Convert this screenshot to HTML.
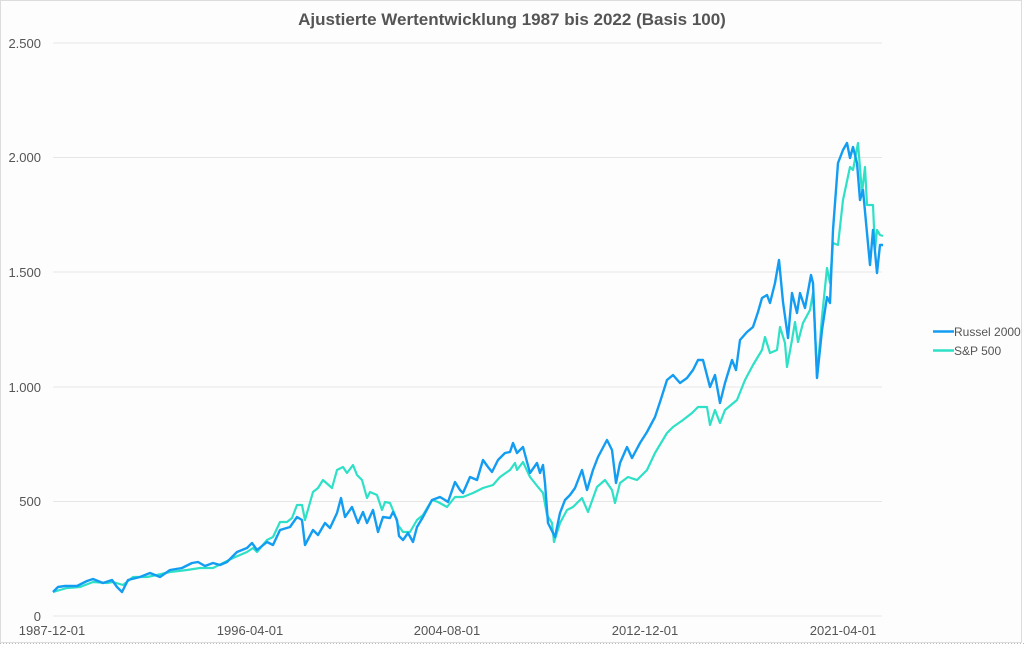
<!DOCTYPE html>
<html><head><meta charset="utf-8"><style>
html,body{margin:0;padding:0;background:#fff;}
svg{display:block;font-family:"Liberation Sans",sans-serif;}
</style></head><body>
<svg width="1024" height="645" viewBox="0 0 1024 645" xmlns="http://www.w3.org/2000/svg">
<rect x="0.5" y="0.5" width="1021" height="642" fill="#fdfdfd" stroke="#dcdcdc"/>
<line x1="0" y1="643.5" x2="1024" y2="643.5" stroke="#bbb" stroke-dasharray="1,2"/>
<text x="512" y="25" text-anchor="middle" font-size="17" font-weight="bold" fill="#555">Ajustierte Wertentwicklung 1987 bis 2022 (Basis 100)</text>
<g stroke="#e6e6e6" stroke-width="1">
<line x1="53" y1="43" x2="882" y2="43"/><line x1="53" y1="157.5" x2="882" y2="157.5"/>
<line x1="53" y1="272" x2="882" y2="272"/><line x1="53" y1="387" x2="882" y2="387"/>
<line x1="53" y1="501.5" x2="882" y2="501.5"/><line x1="53" y1="616" x2="882" y2="616"/>
</g>
<g font-size="13" fill="#555" text-anchor="end">
<text x="41" y="48">2.500</text><text x="41" y="162">2.000</text><text x="41" y="277">1.500</text>
<text x="41" y="392">1.000</text><text x="41" y="506">500</text><text x="41" y="621">0</text>
</g>
<g font-size="13" fill="#555" text-anchor="middle">
<text x="52" y="635">1987-12-01</text><text x="250" y="635">1996-04-01</text><text x="447" y="635">2004-08-01</text>
<text x="645" y="635">2012-12-01</text><text x="843" y="635">2021-04-01</text>
</g>
<polyline fill="none" stroke="#2ee0c6" stroke-width="2.2" stroke-linejoin="round" points="53,592 67,588 80,587 93,582 107,583 113,582 123,585 133,577 147,577 157,575 170,572 187,570 200,568 213,568 223,563 233,558 247,552 253,548 257,552 267,540 273,537 280,522 287,522 292,518 297,505 302,505 305,520 313,492 318,488 323,480 332,488 337,470 343,467 347,473 353,465 357,475 362,480 367,498 370,492 377,495 382,510 385,502 390,503 395,515 398,525 403,532 410,532 417,520 423,515 432,500 438,502 447,507 455,497 463,497 473,493 483,488 493,485 500,477 510,470 515,463 517,470 523,462 530,477 538,487 543,493 547,515 552,523 554,542 560,523 567,510 573,507 582,498 588,512 597,487 605,480 612,490 615,503 620,483 628,477 637,480 647,470 655,453 667,433 673,427 683,420 692,413 698,407 707,407 710,425 715,410 720,423 725,410 737,400 745,380 753,365 762,350 765,337 770,353 777,350 780,327 785,343 787,367 792,340 795,322 798,342 803,323 810,310 813,293 815,330 817,377 822,317 827,268 830,283 833,243 838,245 843,200 850,167 853,170 858,143 862,193 865,167 867,205 873,205 875,250 877,230 880,235 883,236"/>
<polyline fill="none" stroke="#139df2" stroke-width="2.4" stroke-linejoin="round" points="53,592 58,587 65,586 77,586 87,581 93,579 103,583 112,580 117,587 122,592 128,580 140,577 150,573 160,577 170,570 182,568 192,563 198,562 205,566 213,563 220,565 227,562 237,552 247,548 252,543 257,550 267,542 273,545 280,530 290,527 297,517 302,520 305,545 313,530 318,535 325,523 330,528 337,513 341,498 345,517 352,507 358,523 363,512 367,523 373,510 378,532 383,517 390,518 393,512 397,520 399,536 403,540 408,533 413,542 417,527 423,517 432,500 440,497 445,500 448,502 455,482 460,490 463,493 470,477 477,480 483,460 488,467 492,472 498,460 505,453 510,452 513,443 517,453 523,447 530,473 537,463 540,473 543,465 545,483 548,523 555,537 560,513 565,500 570,495 575,488 582,470 587,490 593,470 598,457 607,440 612,450 616,483 620,463 627,447 632,458 640,443 647,432 655,417 660,402 667,380 673,375 680,383 687,378 693,370 698,360 703,360 710,387 715,375 720,403 725,383 732,360 736,370 740,340 747,332 753,327 758,312 762,298 767,295 770,303 775,283 779,260 783,302 788,338 792,293 797,313 800,293 805,308 811,275 813,283 817,378 822,330 827,297 830,303 833,230 838,163 843,150 847,143 850,158 853,147 857,163 860,200 863,190 867,233 870,265 873,230 877,273 880,245 883,245"/>
<line x1="933" y1="331.5" x2="954" y2="331.5" stroke="#139df2" stroke-width="2.4"/>
<text x="954" y="336" font-size="12" fill="#555">Russel 2000</text>
<line x1="933" y1="350.5" x2="954" y2="350.5" stroke="#2ee0c6" stroke-width="2.4"/>
<text x="954" y="355" font-size="12" fill="#555">S&amp;P 500</text>
</svg>
</body></html>
